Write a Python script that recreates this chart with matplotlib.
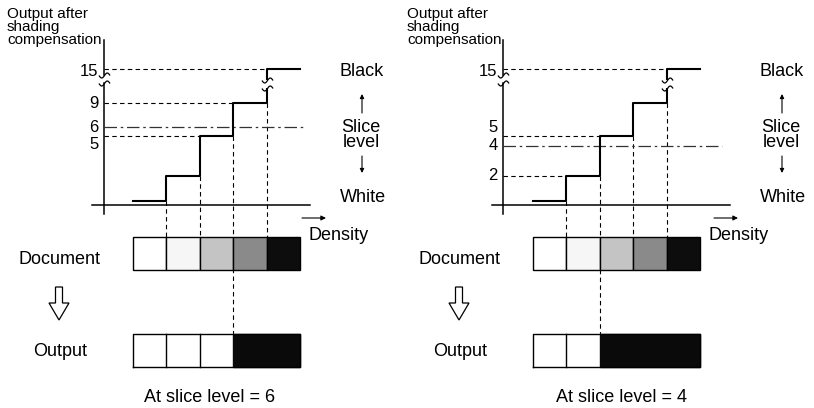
import numpy as np
import matplotlib
matplotlib.use("Agg")
import matplotlib.pyplot as plt
from matplotlib.path import Path
from matplotlib.patches import Polygon

# ---------------- data ----------------
levels = [0.3, 2, 5, 9, 15]              # output after shading compensation, per density cell
doc_colors = ["#ffffff", "#f6f6f6", "#c4c4c4", "#8a8a8a", "#0d0d0d"]
slice_levels = [6, 4]
tick_values = [[15, 9, 6, 5], [15, 5, 4, 2]]
tick_labels = [["15", "9", "6", "5"], ["15", "5", "4", "2"]]
dash_levels = [[(15, 4), (9, 3), (5, 2)], [(15, 4), (5, 2), (2, 1)]]   # (value, step start index)
titles = ["At slice level = 6", "At slice level = 4"]

# ---------------- scale (schematic, broken axis) ----------------
KV = [-1000, 0, 2, 4, 5, 6, 9, 15, 1000]
KH = [-1000, 0, 29, 59, 69, 78, 102, 136, 1121]
fwd = lambda v: np.interp(v, KV, KH)
inv = lambda h: np.interp(h, KH, KV)

REG = ["Liberation Sans", "DejaVu Sans"]

W, H = 814, 408
fig = plt.figure(figsize=(W / 100, H / 100), dpi=100)

# tilde marker
tx = np.linspace(-1, 1, 25)
tilde = Path(np.column_stack([tx, 0.45 * np.sin(np.pi * tx)]))

CELL = 33.4
X0 = 133
panels = [(0, 400), (400, 414)]
ax_x_px = [104, 103]
xaxis_end_px = [310, 330]
slice_end_px = [305, 322]
tick_dy = [[-2, 0, 0, -6], [-2, 6, 0, 0]]

for p, (left, width) in enumerate(panels):
    ax = fig.add_axes([left / W, 0, width / W, 1])
    ax.set_yscale("function", functions=(fwd, inv))
    ax.set_xlim(-X0 / CELL, (width - X0) / CELL)
    ax.set_ylim(inv(-(H - 205)), inv(205))
    ax.axis("off")
    ax.patch.set_visible(False)

    axx = (ax_x_px[p] - X0) / CELL
    # y axis with break
    ax.plot([axx, axx], [-9, 12.5], color="black", lw=1.1)
    ax.plot([axx, axx], [13.9, 44], color="black", lw=1.1)
    ax.plot([axx, axx], [12.5, 13.9], ls="none", marker=tilde, ms=8,
            mfc="none", mec="black", mew=0.9)
    # x axis
    ax.plot([(92 - X0) / CELL, (xaxis_end_px[p] - X0) / CELL], [0, 0], color="black", lw=1.1)

    # step curve
    edges = np.arange(len(levels) + 1)
    ax.step(edges, levels + [levels[-1]], where="post", color="black", lw=1.5, zorder=3)
    # break on last riser
    ax.plot([4, 4], [11.65, 13.06], color="white", lw=4, solid_capstyle="butt", zorder=4)
    ax.plot([4, 4], [11.65, 13.06], ls="none", marker=tilde, ms=8,
            mfc="none", mec="black", mew=0.9, zorder=5)

    # dashed horizontal guides
    for val, idx in dash_levels[p]:
        ax.plot([axx, idx], [val, val], color="black", lw=0.8, ls=(0, (4, 3)))
    # tick labels
    for val, lab, dy in zip(tick_values[p], tick_labels[p], tick_dy[p]):
        ax.annotate(lab, xy=(axx, val), xytext=(-4, dy), textcoords="offset points",
                    ha="right", va="center", fontsize=12, family=REG)

    # slice level line
    sl = slice_levels[p]
    ax.plot([axx, (slice_end_px[p] - X0) / CELL], [sl, sl], color="#333333", lw=0.9,
            ls=(0, (10, 3, 2, 3)))

    # document strip
    doc_bottom, doc_h = -65, 33
    out_bottom, out_h = -162, 33
    idx = np.arange(len(levels)) + 0.5
    ax.bar(idx, [doc_h] * len(levels), bottom=doc_bottom, width=1, color=doc_colors,
           edgecolor="black", lw=1.0, zorder=2)
    out_colors = ["#0a0a0a" if v > sl else "#ffffff" for v in levels]
    ax.bar(idx, [out_h] * len(levels), bottom=out_bottom, width=1, color=out_colors,
           edgecolor=out_colors, lw=1.0, zorder=2)
    ax.plot([0, 5, 5, 0, 0], [out_bottom, out_bottom, out_bottom + out_h, out_bottom + out_h, out_bottom],
            color="black", lw=1.0, zorder=3)
    first_black = next(i for i, v in enumerate(levels) if v > sl)
    for i in range(1, first_black):
        ax.plot([i, i], [out_bottom, out_bottom + out_h], color="black", lw=1.0, zorder=3)

    # dashed verticals from risers
    for i in range(1, len(levels)):
        bottom = out_bottom + out_h if i == first_black else doc_bottom + doc_h
        ax.plot([i, i], [levels[i - 1], bottom], color="black", lw=0.8, ls=(0, (4, 3)), zorder=1)

# ---------------- overlay: labels & arrows ----------------
ov = fig.add_axes([0, 0, 1, 1])
ov.set_xlim(0, W)
ov.set_ylim(H, 0)
ov.axis("off")
ov.patch.set_visible(False)

arrow_kw = dict(arrowstyle="-|>", lw=0.8, mutation_scale=6, color="black", shrinkA=0, shrinkB=0)
for p, off in enumerate([0, 400]):
    loff = 0 if p == 0 else 420
    ov.text(7 + off, 7, "Output after\nshading\ncompensation", ha="left", va="top",
            fontsize=11, family=REG, linespacing=0.92)
    ov.text(362 + loff, 71, "Black", ha="center", va="center", fontsize=13, family=REG)
    ov.text(361 + loff, 135, "Slice\nlevel", ha="center", va="center", fontsize=13,
            family=REG, linespacing=0.85)
    ov.text(363 + loff, 198, "White", ha="center", va="center", fontsize=13, family=REG)
    ov.annotate("", xy=(362 + loff, 94), xytext=(362 + loff, 113), arrowprops=arrow_kw)
    ov.annotate("", xy=(362 + loff, 173), xytext=(362 + loff, 156), arrowprops=arrow_kw)
    ov.annotate("", xy=(326 + off + (12 if p else 0), 218), xytext=(302 + off + (12 if p else 0), 218),
                arrowprops=dict(arrow_kw, mutation_scale=7))
    ov.text(308 + off, 236, "Density", ha="left", va="center", fontsize=13, family=REG)
    ov.text(60 + off, 259, "Document", ha="center", va="center", fontsize=13, family=REG)
    ov.text(60 + off, 352, "Output", ha="center", va="center", fontsize=13, family=REG)
    ov.text(210 + off + (12 if p else 0), 397, titles[p], ha="center", va="center",
            fontsize=13, family=REG)
    cx = 59 + off
    ov.add_patch(Polygon([(cx - 3.5, 287), (cx + 3.5, 287), (cx + 3.5, 303), (cx + 10, 303),
                          (cx, 320), (cx - 10, 303), (cx - 3.5, 303)],
                         closed=True, fc="white", ec="black", lw=0.9))

fig.savefig("out.png", dpi=100)
